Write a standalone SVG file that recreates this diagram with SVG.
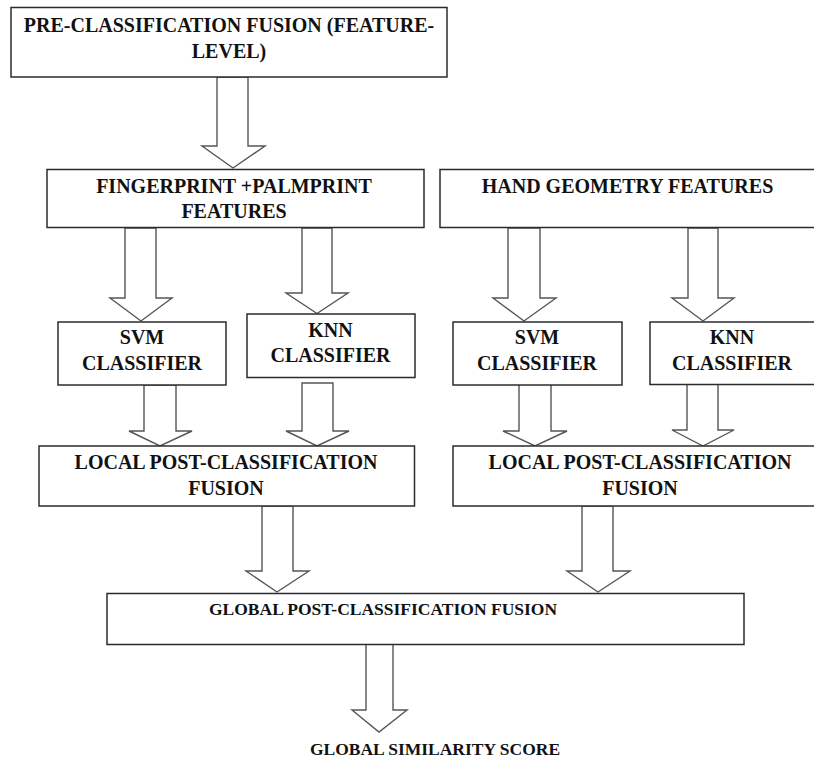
<svg xmlns="http://www.w3.org/2000/svg" width="814" height="761" viewBox="0 0 814 761">
<style>
.box{fill:#fff;stroke:#2a2a33;stroke-width:1.5}
.arr{fill:#fff;stroke:#555;stroke-width:1.4;stroke-linejoin:miter}
.t{font-family:"Liberation Serif","Times New Roman",serif;font-weight:bold;font-size:20px;fill:#111;text-anchor:middle}
.s{font-size:17.5px}
</style>
<rect width="814" height="761" fill="#fff"/>
<g id="connectors">
<polygon class="arr" points="217,77 248,77 248,146 265,146 233,168 202,146 217,146"/>
<polygon class="arr" points="125,228 156,228 156,298 172,298 141,321 110,298 125,298"/>
<polygon class="arr" points="302,228 332,228 332,293 348,293 317,313.5 286,293 302,293"/>
<polygon class="arr" points="508,228 540,228 540,298 556,298 524,321 493,298 508,298"/>
<polygon class="arr" points="688,228 718,228 718,298 734,298 703,321 672,298 688,298"/>
<polygon class="arr" points="144,385 176,385 176,431 192,431 160,446 129,431 144,431"/>
<polygon class="arr" points="302,383 333,383 333,431 349,431 317,446 286,431 302,431"/>
<polygon class="arr" points="519,384 551,384 551,431 567,431 535,446 503,431 519,431"/>
<polygon class="arr" points="687,384 718,384 718,430 734,430 703,446 672,430 687,430"/>
<polygon class="arr" points="262,506 293,506 293,571 309,571 277,592 246,571 262,571"/>
<polygon class="arr" points="582,506 613,506 613,571 630,571 598,592 567,571 582,571"/>
<polygon class="arr" points="366,644 393,644 393,710 407,710 379,732 352,710 366,710"/>
</g>
<g id="pre-fusion">
<rect class="box" x="11" y="7.5" width="436" height="69.5"/>
<text class="t" x="229" y="31.5">PRE-CLASSIFICATION FUSION (FEATURE-</text>
<text class="t" x="229" y="58">LEVEL)</text>
</g>
<g id="fp-features">
<rect class="box" x="47" y="169.5" width="377" height="58"/>
<text class="t" x="234" y="193">FINGERPRINT +PALMPRINT</text>
<text class="t" x="234" y="218">FEATURES</text>
</g>
<g id="hand-features">
<rect class="box" x="440" y="169.5" width="380" height="58"/>
<text class="t" x="627.5" y="193">HAND GEOMETRY FEATURES</text>
</g>
<g id="svm1">
<rect class="box" x="58" y="322" width="168" height="63"/>
<text class="t" x="142" y="344">SVM</text>
<text class="t" x="142" y="370">CLASSIFIER</text>
</g>
<g id="knn1">
<rect class="box" x="247" y="314" width="168" height="63.5"/>
<text class="t" x="330.5" y="337">KNN</text>
<text class="t" x="330.5" y="362">CLASSIFIER</text>
</g>
<g id="svm2">
<rect class="box" x="453" y="322" width="169" height="63"/>
<text class="t" x="537" y="344">SVM</text>
<text class="t" x="537" y="370">CLASSIFIER</text>
</g>
<g id="knn2">
<rect class="box" x="650" y="322" width="170" height="62.5"/>
<text class="t" x="732" y="344">KNN</text>
<text class="t" x="732" y="370">CLASSIFIER</text>
</g>
<g id="local1">
<rect class="box" x="39" y="446" width="375.5" height="60"/>
<text class="t" x="226" y="469">LOCAL POST-CLASSIFICATION</text>
<text class="t" x="226" y="495">FUSION</text>
</g>
<g id="local2">
<rect class="box" x="453" y="446" width="367" height="60"/>
<text class="t" x="640" y="469">LOCAL POST-CLASSIFICATION</text>
<text class="t" x="640" y="495">FUSION</text>
</g>
<g id="global">
<rect class="box" x="107" y="593.5" width="637" height="51"/>
<text class="t s" x="383" y="615">GLOBAL POST-CLASSIFICATION FUSION</text>
</g>
<g id="score">
<text class="t s" x="435" y="755">GLOBAL SIMILARITY SCORE</text>
</g>
</svg>
